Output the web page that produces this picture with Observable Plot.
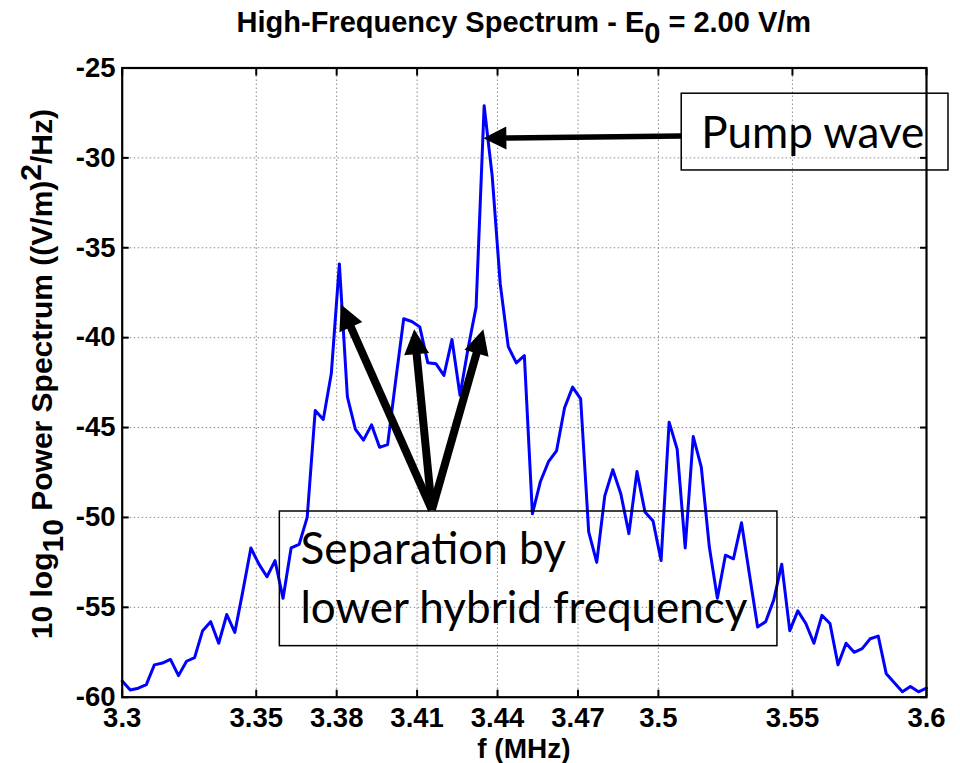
<!DOCTYPE html>
<html>
<head>
<meta charset="utf-8">
<script src="https://cdn.jsdelivr.net/npm/d3@7"></script>
<script src="https://cdn.jsdelivr.net/npm/@observablehq/plot@0.6"></script>
<style>
  html, body { margin: 0; padding: 0; background: #ffffff; }
  svg { display: block; }
</style>
</head>
<body>
<div id="chart"></div>
<script>
// ---------------- data ----------------
const freqMHz = [
  3.300, 3.303, 3.306, 3.309, 3.312, 3.315, 3.318, 3.321, 3.324, 3.327,
  3.330, 3.333, 3.336, 3.339, 3.342, 3.345, 3.348, 3.351, 3.354, 3.357,
  3.360, 3.363, 3.366, 3.369, 3.372, 3.375, 3.378, 3.381, 3.384, 3.387,
  3.390, 3.393, 3.396, 3.399, 3.402, 3.405, 3.408, 3.411, 3.414, 3.417,
  3.420, 3.423, 3.426, 3.429, 3.432, 3.435, 3.438, 3.441, 3.444, 3.447,
  3.450, 3.453, 3.456, 3.459, 3.462, 3.465, 3.468, 3.471, 3.474, 3.477,
  3.480, 3.483, 3.486, 3.489, 3.492, 3.495, 3.498, 3.501, 3.504, 3.507,
  3.510, 3.513, 3.516, 3.519, 3.522, 3.525, 3.528, 3.531, 3.534, 3.537,
  3.540, 3.543, 3.546, 3.549, 3.552, 3.555, 3.558, 3.561, 3.564, 3.567,
  3.570, 3.573, 3.576, 3.579, 3.582, 3.585, 3.588, 3.591, 3.594, 3.597,
  3.600
];
const powerDb = [
  -59.1, -59.6, -59.5, -59.3, -58.2, -58.1, -57.9, -58.8, -58.0, -57.8,
  -56.3, -55.8, -57.0, -55.4, -56.4, -54.1, -51.7, -52.6, -53.3, -52.4,
  -54.5, -51.7, -51.5, -50.0, -44.05, -44.55, -42.0, -35.9, -43.3, -45.1,
  -45.7, -44.85, -46.1, -45.95, -42.4, -38.95, -39.1, -39.4, -41.4, -41.45,
  -42.1, -40.1, -43.2, -40.6, -38.3, -27.1, -31.0, -37.0, -40.5, -41.4,
  -41.0, -49.8, -48.0, -46.9, -46.3, -43.9, -42.75, -43.4, -50.8, -52.5,
  -48.8, -47.35, -48.7, -50.9, -47.45, -49.7, -50.2, -52.4, -44.7, -46.2,
  -51.7, -45.5, -47.2, -51.65, -54.5, -52.1, -52.3, -50.3, -53.2, -56.1,
  -55.8, -54.6, -52.6, -56.3, -55.2, -55.9, -57.0, -55.45, -55.9, -58.2,
  -57.0, -57.5, -57.3, -56.75, -56.6, -58.7, -59.2, -59.7, -59.4, -59.7,
  -59.5
];

const xTickValues = [3.3, 3.35, 3.38, 3.41, 3.44, 3.47, 3.5, 3.55, 3.6];
const xTickLabels = ["3.3", "3.35", "3.38", "3.41", "3.44", "3.47", "3.5", "3.55", "3.6"];
const yTickValues = [-60, -55, -50, -45, -40, -35, -30, -25];
const yTickLabels = ["-60", "-55", "-50", "-45", "-40", "-35", "-30", "-25"];

const titleParts = [
  {text: "High-Frequency Spectrum - E"},
  {text: "0", shift: "sub"},
  {text: " = 2.00 V/m"}
];
const yLabelParts = [
  {text: "10 log"},
  {text: "10", shift: "sub"},
  {text: " Power Spectrum ((V/m)"},
  {text: "2", shift: "sup"},
  {text: "/Hz)"}
];
const xLabelText = "f (MHz)";

// annotation anchors, in data units (MHz, dB)
const annotationBoxes = [
  {f1: 3.5087, f2: 3.6082, p1: -26.43, p2: -30.70},
  {f1: 3.3588, f2: 3.5444, p1: -49.67, p2: -57.16}
];
const annotationTexts = [
  {f: 3.5160, p: -29.44, text: "Pump wave"},
  {f: 3.3665, p: -52.61, text: "Separation by"},
  {f: 3.3665, p: -55.90, text: "lower hybrid frequency"}
];
const pumpArrows = [
  {f1: 3.5087, p1: -28.81, f2: 3.4349, p2: -28.94}
];
const separationArrows = [
  {f1: 3.4157, p1: -49.61, f2: 3.3817, p2: -38.17},
  {f1: 3.4157, p1: -49.61, f2: 3.4091, p2: -39.56},
  {f1: 3.4157, p1: -49.61, f2: 3.4349, p2: -39.56}
];

// ---------------- build ----------------
const spectrum = freqMHz.map((f, i) => ({f, p: powerDb[i]}));
const xInner = xTickValues.slice(1, -1);
const yInner = yTickValues.slice(1, -1);

const axisFont = "'Liberation Sans', Arial, Helvetica, sans-serif";
const noteFont = "Lato, 'Open Sans', sans-serif";

function richText(parts, {x, y, rotate = 0, anchor = "middle", fontSize, fontWeight = "bold", fontFamily}) {
  const t = d3.create("svg:text")
    .attr("transform", `translate(${x},${y})` + (rotate ? ` rotate(${rotate})` : ""))
    .attr("text-anchor", anchor)
    .attr("font-size", fontSize)
    .attr("font-weight", fontWeight)
    .attr("font-family", fontFamily)
    .attr("fill", "black");
  let pending = 0;
  for (const part of parts) {
    const s = t.append("tspan").text(part.text);
    const shift = part.shift === "sub" ? 0.38 : part.shift === "sup" ? -0.38 : 0;
    const dy = shift - pending;
    if (dy) s.attr("dy", `${dy}em`);
    pending = shift;
  }
  return t.node();
}

function arrowRender(list, {shaft, headLength, headWidth}) {
  return (index, scales) => {
    const g = d3.create("svg:g");
    for (const a of list) {
      const x1 = scales.x(a.f1), y1 = scales.y(a.p1);
      const x2 = scales.x(a.f2), y2 = scales.y(a.p2);
      const ang = Math.atan2(y2 - y1, x2 - x1);
      const bx = x2 - headLength * Math.cos(ang), by = y2 - headLength * Math.sin(ang);
      const nx = -Math.sin(ang) * headWidth / 2, ny = Math.cos(ang) * headWidth / 2;
      g.append("line")
        .attr("x1", x1).attr("y1", y1).attr("x2", bx + Math.cos(ang)).attr("y2", by + Math.sin(ang))
        .attr("stroke", "black").attr("stroke-width", shaft).attr("stroke-linecap", "butt");
      g.append("path")
        .attr("d", `M${x2},${y2}L${bx + nx},${by + ny}L${bx - nx},${by - ny}Z`)
        .attr("fill", "black");
    }
    return g.node();
  };
}

const gridStyle = {stroke: "#8a8a8a", strokeOpacity: 1, strokeWidth: 1, strokeDasharray: "1.5,2.5"};
const tickFmtX = d => xTickLabels[xTickValues.indexOf(d)];
const tickFmtY = d => yTickLabels[yTickValues.indexOf(d)];

const chart = Plot.plot({
  width: 960,
  height: 763,
  marginTop: 67.5,
  marginBottom: 66.3,
  marginLeft: 121.7,
  marginRight: 34,
  style: {fontFamily: axisFont, fontWeight: "bold", fontSize: "28px", color: "black", background: "white"},
  x: {domain: [3.3, 3.6]},
  y: {domain: [-60, -25]},
  marks: [
    Plot.gridX(xInner, {x: d => d, ...gridStyle}),
    Plot.gridY(yInner, {y: d => d, ...gridStyle}),
    Plot.line(spectrum, {x: "f", y: "p", stroke: "#0000ff", strokeWidth: 3, strokeLinejoin: "round"}),
    Plot.frame({stroke: "black", strokeWidth: 2.2}),
    Plot.axisX(xTickValues, {anchor: "bottom", tickSize: -7, tickPadding: 17.5, strokeWidth: 2, tickFormat: tickFmtX, fontSize: 27.5, fontWeight: "bold", label: null}),
    Plot.axisX(xTickValues, {anchor: "top", tickSize: -7, strokeWidth: 2, tickFormat: () => "", label: null}),
    Plot.axisY(yTickValues, {anchor: "left", tickSize: -7, tickPadding: 13.7, strokeWidth: 2, tickFormat: tickFmtY, fontSize: 27.5, fontWeight: "bold", label: null}),
    Plot.axisY(yTickValues, {anchor: "right", tickSize: -7, strokeWidth: 2, tickFormat: () => "", label: null}),
    Plot.rect(annotationBoxes, {x1: "f1", x2: "f2", y1: "p1", y2: "p2", fill: "none", stroke: "black", strokeWidth: 1.5}),
    arrowRender(pumpArrows, {shaft: 5.5, headLength: 23, headWidth: 23}),
    arrowRender(separationArrows, {shaft: 8, headLength: 25, headWidth: 25}),
    Plot.text(annotationTexts, {x: "f", y: "p", text: "text", textAnchor: "start", lineAnchor: "bottom", fontFamily: noteFont, fontWeight: "normal", fontSize: 44, fill: "black"}),
    (index, scales, values, dimensions) => richText(titleParts, {
      x: (dimensions.marginLeft + dimensions.width - dimensions.marginRight) / 2, y: 32,
      fontSize: 29, fontFamily: axisFont
    }),
    (index, scales, values, dimensions) => richText([{text: xLabelText}], {
      x: (dimensions.marginLeft + dimensions.width - dimensions.marginRight) / 2, y: 758,
      fontSize: 28, fontFamily: axisFont
    }),
    (index, scales, values, dimensions) => richText(yLabelParts, {
      x: 52, y: (dimensions.marginTop + dimensions.height - dimensions.marginBottom) / 2 - 8,
      rotate: -90, fontSize: 30, fontFamily: axisFont
    })
  ]
});

document.getElementById("chart").appendChild(chart);
</script>
</body>
</html>
